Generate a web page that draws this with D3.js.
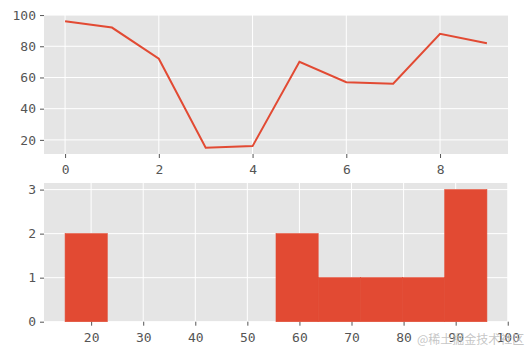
<!DOCTYPE html>
<html lang="en">
<head>
    <meta charset="UTF-8">
    <title>Line and histogram (ggplot style)</title>
    <script src="https://d3js.org/d3.v7.min.js"></script>
    <style>
        body { margin: 0; background: #fff; }
        svg { display: block; }
        .tick text { font-family: "DejaVu Sans Mono", monospace; font-size: 13px; fill: #555; }
        .tick line { stroke: #555; }
        .domain { display: none; }
    </style>
</head>
<body>
    <svg></svg>
    <script>
        // data
        const xIndex = [0, 1, 2, 3, 4, 5, 6, 7, 8, 9];
        const values = [96, 92, 72, 15, 16, 70, 57, 56, 88, 82];
        const topXTicks = [0, 2, 4, 6, 8];
        const topYTicks = [20, 40, 60, 80, 100];
        const histXTicks = [20, 30, 40, 50, 60, 70, 80, 90, 100];
        const histYTicks = [0, 1, 2, 3];
        const nBins = 10;

        const width = 528, height = 355;
        const red = "#E24A33";
        const bg = "#E5E5E5";

        const svg = d3.select("svg")
            .attr("width", width)
            .attr("height", height);

        // ---- top: line plot ----
        const box1 = { left: 44, right: 508, top: 15, bottom: 154 };
        const x1 = d3.scaleLinear().domain([-0.45, 9.45]).range([box1.left, box1.right]);
        const vmin = d3.min(values), vmax = d3.max(values);
        const pad = (vmax - vmin) * 0.05;
        const y1 = d3.scaleLinear().domain([vmin - pad, vmax + pad]).range([box1.bottom, box1.top]);

        const g1 = svg.append("g");
        g1.append("rect")
            .attr("x", box1.left).attr("y", box1.top)
            .attr("width", box1.right - box1.left).attr("height", box1.bottom - box1.top)
            .attr("fill", bg);

        // grid
        g1.selectAll(".vgrid").data(topXTicks).enter().append("line")
            .attr("x1", d => x1(d)).attr("x2", d => x1(d))
            .attr("y1", box1.top).attr("y2", box1.bottom)
            .attr("stroke", "#fff").attr("stroke-width", 1);
        g1.selectAll(".hgrid").data(topYTicks).enter().append("line")
            .attr("y1", d => y1(d)).attr("y2", d => y1(d))
            .attr("x1", box1.left).attr("x2", box1.right)
            .attr("stroke", "#fff").attr("stroke-width", 1);

        g1.append("g")
            .attr("transform", `translate(0,${box1.bottom})`)
            .call(d3.axisBottom(x1).tickValues(topXTicks).tickSize(4).tickPadding(7));
        g1.append("g")
            .attr("transform", `translate(${box1.left},0)`)
            .call(d3.axisLeft(y1).tickValues(topYTicks).tickSize(4).tickPadding(4));

        const line = d3.line()
            .x((d, i) => x1(xIndex[i]))
            .y(d => y1(d));
        g1.append("path")
            .datum(values)
            .attr("d", line)
            .attr("fill", "none")
            .attr("stroke", red)
            .attr("stroke-width", 2);

        // ---- bottom: histogram ----
        const box2 = { left: 44, right: 508, top: 183, bottom: 321.7 };
        const step = (vmax - vmin) / nBins;
        const thresholds = d3.range(1, nBins).map(i => vmin + i * step);
        const bins = d3.bin().domain([vmin, vmax]).thresholds(thresholds)(values);

        const x2 = d3.scaleLinear().domain([vmin - pad, vmax + pad]).range([box2.left, box2.right]);
        const ymax = d3.max(bins, b => b.length);
        const y2 = d3.scaleLinear().domain([0, ymax * 1.05]).range([box2.bottom, box2.top]);

        const g2 = svg.append("g");
        g2.append("rect")
            .attr("x", box2.left).attr("y", box2.top)
            .attr("width", box2.right - box2.left).attr("height", box2.bottom - box2.top)
            .attr("fill", bg);

        g2.selectAll(".vgrid").data(histXTicks).enter().append("line")
            .attr("x1", d => x2(d)).attr("x2", d => x2(d))
            .attr("y1", box2.top).attr("y2", box2.bottom)
            .attr("stroke", "#fff").attr("stroke-width", 1);
        g2.selectAll(".hgrid").data(histYTicks).enter().append("line")
            .attr("y1", d => y2(d)).attr("y2", d => y2(d))
            .attr("x1", box2.left).attr("x2", box2.right)
            .attr("stroke", "#fff").attr("stroke-width", 1);

        g2.append("g")
            .attr("transform", `translate(0,${box2.bottom})`)
            .call(d3.axisBottom(x2).tickValues(histXTicks).tickSize(4).tickPadding(7));
        g2.append("g")
            .attr("transform", `translate(${box2.left},0)`)
            .call(d3.axisLeft(y2).tickValues(histYTicks).tickFormat(d3.format("d")).tickSize(4).tickPadding(4));

        g2.selectAll(".bar")
            .data(bins)
            .enter()
            .append("rect")
            .attr("class", "bar")
            .attr("x", d => x2(d.x0))
            .attr("width", d => x2(d.x1) - x2(d.x0))
            .attr("y", d => y2(d.length))
            .attr("height", d => y2(0) - y2(d.length))
            .attr("fill", red)
            .attr("stroke", d => d.length ? red : "none")
            .attr("stroke-width", 0.6);

        // watermark
        svg.append("text")
            .attr("x", 417)
            .attr("y", 344)
            .attr("font-family", "Noto Sans CJK SC, sans-serif")
            .attr("font-size", 12)
            .attr("fill", "#bbb")
            .attr("fill-opacity", 0.85)
            .text("@稀土掘金技术社区");
    </script>
</body>
</html>
